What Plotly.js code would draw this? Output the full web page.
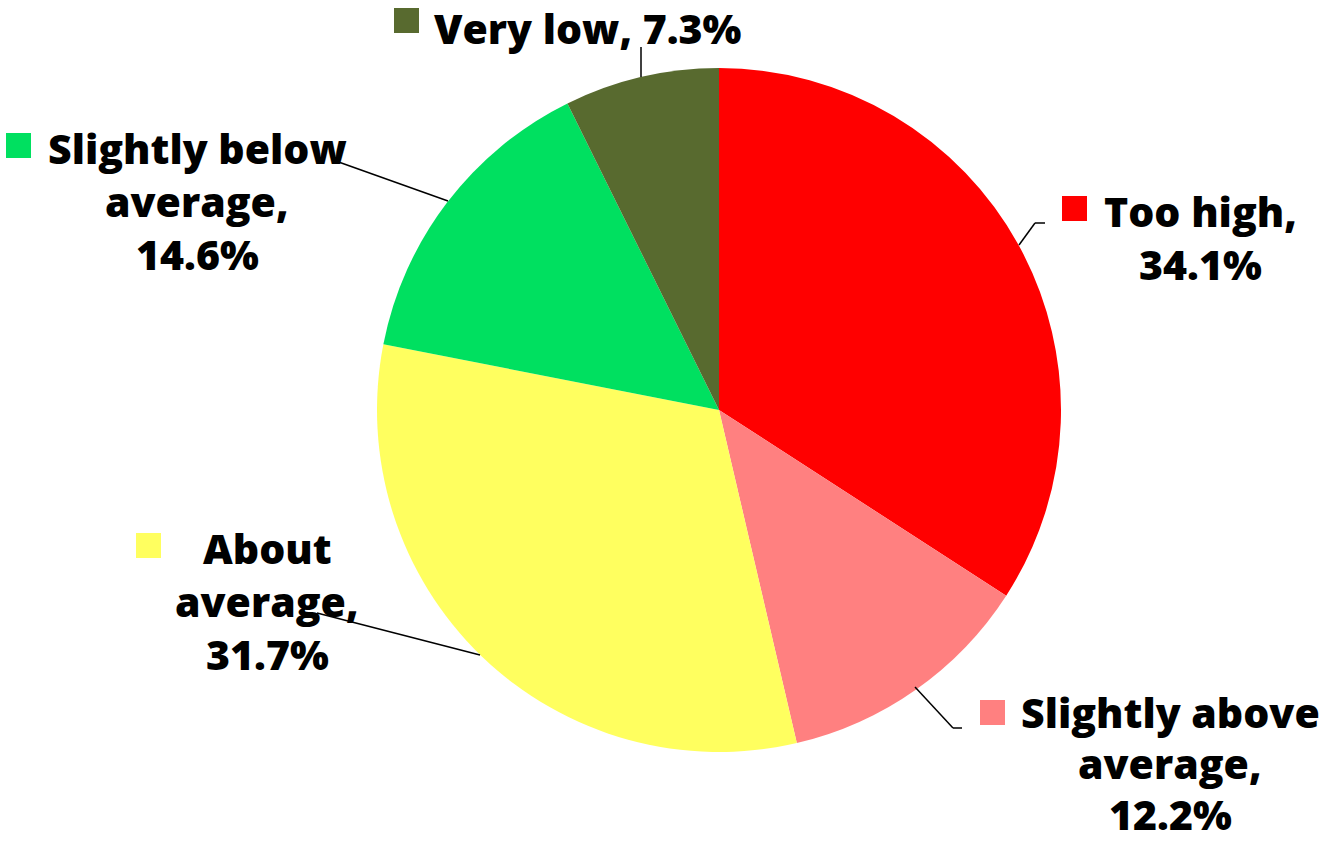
<!DOCTYPE html>
<html><head><meta charset="utf-8">
<script src="https://cdn.plot.ly/plotly-3.0.1.min.js"></script>
<style>html,body{margin:0;padding:0;background:#fff}</style>
</head><body>
<div id="chart" style="width:1320px;height:842px"></div>
<script>
const categories = ["Too high", "Slightly above average", "About average", "Slightly below average", "Very low"];
const values = [34.1, 12.2, 31.7, 14.6, 7.3];
const labelLines = [
  ["Too high,", "34.1%"],
  ["Slightly above", "average,", "12.2%"],
  ["About", "average,", "31.7%"],
  ["Slightly below", "average,", "14.6%"],
  ["Very low, 7.3%"]
];
const colors = ["#FF0000", "#FF8080", "#FFFF5F", "#00E060", "#586A2F"];

const W = 1320, H = 842;
const px = x => x / W, py = y => 1 - y / H;

// label layout (pixels): first line center, line step, key square, leader line points
const layoutInfo = [
  {tx: 1200, ty: 211, step: 53, sq: [1062, 196], line: [[1019,245],[1035,223],[1045,223]]},
  {tx: 1170, ty: 712, step: 51, sq: [980, 700], line: [[915,687],[953,728],[962,728]]},
  {tx: 267, ty: 548, step: 53, sq: [136, 533], line: [[480,655],[317,613]]},
  {tx: 197, ty: 148, step: 53, sq: [6, 133], line: [[448,201],[333,160]]},
  {tx: 588, ty: 28, step: 53, sq: [394, 8], line: [[641,77],[641,47]]}
];

const annotations = [], shapes = [];
layoutInfo.forEach((L, i) => {
  labelLines[i].forEach((t, k) => {
    annotations.push({
      xref: 'paper', yref: 'paper', x: px(L.tx), y: py(L.ty + k * L.step),
      xanchor: 'center', yanchor: 'middle', showarrow: false, borderpad: 0,
      text: t,
      font: {family: '"Open Sans", sans-serif', size: 41, color: '#000', weight: 800}
    });
  });
  shapes.push({
    type: 'rect', xref: 'paper', yref: 'paper',
    x0: px(L.sq[0]), x1: px(L.sq[0] + 25), y0: py(L.sq[1]), y1: py(L.sq[1] + 25),
    fillcolor: colors[i], line: {width: 0}
  });
  for (let k = 0; k < L.line.length - 1; k++) {
    shapes.push({
      type: 'line', xref: 'paper', yref: 'paper',
      x0: px(L.line[k][0]), y0: py(L.line[k][1]), x1: px(L.line[k+1][0]), y1: py(L.line[k+1][1]),
      line: {color: '#000', width: 1.5}
    });
  }
});

const cx = 719, cy = 410, r = 342;
const data = [{
  type: 'pie',
  labels: categories,
  values: values,
  marker: {colors: colors, line: {width: 0}},
  sort: false,
  direction: 'clockwise',
  rotation: 0,
  textinfo: 'none',
  hoverinfo: 'label+percent',
  domain: {x: [px(cx - r), px(cx + r)], y: [py(cy + r), py(cy - r)]}
}];

const layout = {
  width: W, height: H,
  margin: {l: 0, r: 0, t: 0, b: 0},
  paper_bgcolor: '#fff',
  showlegend: false,
  annotations: annotations,
  shapes: shapes
};

Plotly.newPlot('chart', data, layout, {displayModeBar: false, staticPlot: true});
</script>
</body></html>
